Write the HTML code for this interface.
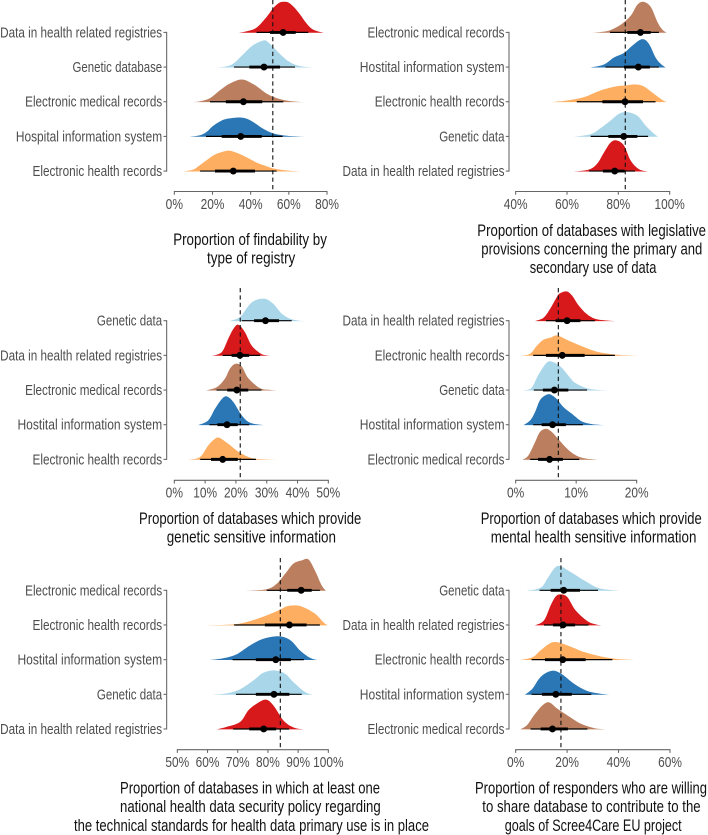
<!DOCTYPE html>
<html lang="en">
<head>
<meta charset="utf-8">
<title>Proportions by type of data source</title>
<style>
  html, body { margin: 0; padding: 0; background: #fff; }
  svg { display: block; font-family: "Liberation Sans", sans-serif; }
  .title { font-size: 16.8px; fill: #111; }
  .tick-text { font-size: 14.6px; fill: #4d4d4d; }
</style>
</head>
<body>
<svg id="chart" width="708" height="835" viewBox="0 0 708 835" xmlns="http://www.w3.org/2000/svg">
  <g>
    <text class="title" x="173.2" y="245" textLength="153.7" lengthAdjust="spacingAndGlyphs">Proportion of findability by</text>
    <text class="title" x="207" y="263.5" textLength="88.3" lengthAdjust="spacingAndGlyphs">type of registry</text>
  </g>
  <g>
    <text class="title" x="477.3" y="236" textLength="228.7" lengthAdjust="spacingAndGlyphs">Proportion of databases with legislative</text>
    <text class="title" x="481.3" y="254.5" textLength="221" lengthAdjust="spacingAndGlyphs">provisions concerning the primary and</text>
    <text class="title" x="529.7" y="273" textLength="126.7" lengthAdjust="spacingAndGlyphs">secondary use of data</text>
  </g>
  <g>
    <text class="title" x="139" y="524" textLength="222.3" lengthAdjust="spacingAndGlyphs">Proportion of databases which provide</text>
    <text class="title" x="166.7" y="542.7" textLength="169.3" lengthAdjust="spacingAndGlyphs">genetic sensitive information</text>
  </g>
  <g>
    <text class="title" x="480.7" y="524" textLength="221" lengthAdjust="spacingAndGlyphs">Proportion of databases which provide</text>
    <text class="title" x="490.7" y="542.7" textLength="205.7" lengthAdjust="spacingAndGlyphs">mental health sensitive information</text>
  </g>
  <g>
    <text class="title" x="120" y="793.3" textLength="260" lengthAdjust="spacingAndGlyphs">Proportion of databases in which at least one</text>
    <text class="title" x="120" y="812.2" textLength="260.7" lengthAdjust="spacingAndGlyphs">national health data security policy regarding</text>
    <text class="title" x="74" y="831" textLength="355" lengthAdjust="spacingAndGlyphs">the technical standards for health data primary use is in place</text>
  </g>
  <g>
    <text class="title" x="475" y="793.3" textLength="232" lengthAdjust="spacingAndGlyphs">Proportion of responders who are willing</text>
    <text class="title" x="482.3" y="812.2" textLength="218.3" lengthAdjust="spacingAndGlyphs">to share database to contribute to the</text>
    <text class="title" x="504.7" y="831" textLength="177" lengthAdjust="spacingAndGlyphs">goals of Scree4Care EU project</text>
  </g>
</svg>
<script>
// ---- Panel 1 data ----
const p1Categories = ["Data in health related registries","Genetic database","Electronic medical records","Hospital information system","Electronic health records"];
const p1Kinds = ["registry","genetic","emr","his","ehr"];
const p1Ticks = [0,20,40,60,80];
const p1Reference = [51.6];
const p1Points = [57,47,36.2,34.8,30.9];
const p1InnerLow = [50.1,39.3,27,24.8,21.3];
const p1InnerHigh = [63.6,55.4,46.1,45.8,42.3];
const p1OuterLow = [43.1,31.3,18.7,16.6,13.5];
const p1OuterHigh = [70.2,63.2,57.1,56.8,53.6];
const p1Density = [
  [[33.9,0],[38,1.5],[43,5],[48,15],[52,25],[55,30],[57.6,31],[60,30],[63,25],[66,18],[69,10],[72,4],[75,1.5],[78.4,0]],
  [[21.8,0],[27,1],[31,4],[36,13],[41,22],[46.6,27],[49,25.5],[52,20],[57,10.5],[60,6],[63,3],[67,1],[72.8,0]],
  [[10,0],[14,1],[18.7,4],[24,12],[29,18.5],[35.3,22.7],[41.4,18],[48.4,8.5],[53,4.5],[57,2.3],[62,.8],[68,0]],
  [[8,0],[13.5,1.5],[17,5],[20.4,11],[25.7,17],[30,18.7],[34.4,19.3],[38,18],[41.4,14.7],[46.6,8],[52,3.3],[59,1],[68,0]],
  [[4.7,0],[10,2],[13.5,6.5],[20.4,16],[25,19.5],[29.2,20.7],[36,16],[43,9],[48,5.5],[52,3],[59,1],[65.9,0]]
];

// ---- Panel 2 data ----
const p2Categories = ["Electronic medical records","Hostital information system","Electronic health records","Genetic data","Data in health related registries"];
const p2Kinds = ["emr","his","ehr","genetic","registry"];
const p2Ticks = [40,60,80,100];
const p2Reference = [82.7];
const p2Points = [88.6,87.8,82.6,82.1,78.6];
const p2InnerLow = [83.5,82.2,73.8,76.1,74];
const p2InnerHigh = [92.6,92.3,89.6,87.4,82.5];
const p2OuterLow = [76.8,75,63.8,69.2,68.6];
const p2OuterHigh = [95.8,95.8,94.5,91.6,86.5];
const p2Density = [
  [[69.9,0],[74,1],[77,2.8],[80.9,8],[84.8,17],[87.4,28],[89.7,31],[92.6,26],[95.2,11],[97,3.5],[98.8,0]],
  [[69.2,0],[74.4,3],[78.3,10],[82.2,14.5],[85.5,22],[89.3,28.3],[91.9,23.7],[94.5,10],[96.5,3.7],[98.4,0]],
  [[53.6,0],[60.1,1.7],[66.6,5],[73,11.7],[79.6,16],[82.9,16.7],[86.8,17.7],[90,15.7],[93.9,8.3],[97.1,2.3],[98.8,0]],
  [[62.7,0],[69.2,2.5],[73,8.5],[77,16.3],[80.3,23],[83.5,24.7],[87.4,21],[90.6,11.3],[93.9,3],[95.5,0]],
  [[62.7,0],[68.6,2],[71.8,8],[74.4,19],[77,29],[79.4,31],[82.2,26],[84.8,11],[88,2.3],[91.3,0]]
];

// ---- Panel 3 data ----
const p3Categories = ["Genetic data","Data in health related registries","Electronic medical records","Hostital information system","Electronic health records"];
const p3Kinds = ["genetic","registry","emr","his","ehr"];
const p3Ticks = [0,10,20,30,40,50];
const p3Reference = [21.4];
const p3Points = [29.6,21.3,20.3,17.1,15.7];
const p3InnerLow = [25.9,18.6,17.2,14,11.9];
const p3InnerHigh = [34,24.3,24,20.6,20.6];
const p3OuterLow = [21.9,15.7,13.7,11.4,8.4];
const p3OuterHigh = [38.1,27.8,28.3,24.3,26.5];
const p3Density = [
  [[17.9,0],[21.3,4],[24,15],[26.2,20.7],[29.4,22.3],[32.1,17.3],[34.9,7.3],[37.6,2.3],[40.3,.5],[42.7,0]],
  [[12.3,0],[15.4,3.7],[17.5,17],[19.2,27],[20.8,31],[22.9,23.7],[25.1,10.3],[27.8,2.7],[29.5,.7],[31.6,0]],
  [[10.3,0],[13.8,3.3],[16.4,11.7],[18.1,22],[19.9,26.7],[21.9,24],[24,12.3],[27.8,2.3],[31,.6],[33.2,0]],
  [[7.8,0],[11,4.7],[13.2,16.3],[15.4,26],[17,28.7],[19.2,23],[21.9,9.7],[24.6,2.3],[28.9,0]],
  [[4.5,0],[8.3,2.7],[11,14.3],[13.2,21],[14.6,22],[17.5,16],[21.3,7],[25.1,1.7],[29,.5],[33.2,0]]
];

// ---- Panel 4 data ----
const p4Categories = ["Data in health related registries","Electronic health records","Genetic data","Hostital information system","Electronic medical records"];
const p4Kinds = ["registry","ehr","genetic","his","emr"];
const p4Ticks = [0,10,20];
const p4Reference = [7.05];
const p4Points = [8.5,7.7,6.4,6.1,5.6];
const p4InnerLow = [6.6,5,4.5,4.3,3.7];
const p4InnerHigh = [10.7,11.4,8.7,8.3,7.8];
const p4OuterLow = [5,2.9,3,2.9,2.4];
const p4OuterHigh = [13.1,16.4,11.8,11.1,10.5];
const p4Density = [
  [[3.2,0],[4.6,3.3],[5.7,12.3],[6.8,24],[7.3,27.7],[8.4,29.7],[9.3,25.7],[10.4,15.7],[11.7,7.3],[13.1,2.3],[14.8,.7],[16.4,0]],
  [[.9,0],[2.4,2],[3.5,10],[4.6,16],[5.7,18],[6.9,20.3],[8.7,15.3],[10.9,9.7],[13.1,4.7],[15.3,2],[17.5,.7],[20.8,0]],
  [[1.3,0],[2.6,2.3],[3.7,15],[5,27],[5.9,29],[7.4,24],[9.1,12],[9.8,7.7],[11.7,2.3],[13.7,.5],[15.6,0]],
  [[1.3,0],[2.4,4.7],[3.2,13],[4,24.7],[4.9,29.7],[5.7,30.7],[6.8,26],[7.9,18],[9.3,11.3],[10.9,3.7],[12.6,1],[14.5,0]],
  [[1.1,0],[2.1,4.3],[3.2,17.7],[4,27.7],[5,31],[6,27.7],[7,21],[8.4,11.7],[9.8,5],[11.2,1.7],[13.7,0]]
];

// ---- Panel 5 data ----
const p5Categories = ["Electronic medical records","Electronic health records","Hostital information system","Genetic data","Data in health related registries"];
const p5Kinds = ["emr","ehr","his","genetic","registry"];
const p5Ticks = [50,60,70,80,90,100];
const p5Reference = [84.1];
const p5Points = [91,87.1,82.6,82,78.6];
const p5InnerLow = [86.4,79,76,76,73.8];
const p5InnerHigh = [94.5,92.8,87.6,87.1,82.7];
const p5OuterLow = [79.6,68.8,68.3,69.4,68.5];
const p5OuterHigh = [97.2,97.2,91.9,91.2,87];
const p5Density = [
  [[72.7,0],[79.6,1.5],[82.9,7],[85.7,17],[88.4,27],[91.2,30.3],[93.4,31.3],[95.6,20],[97.8,5.3],[99.2,0]],
  [[58.9,0],[68.5,1],[74.1,4.3],[79.6,10],[84,15.7],[86.2,19],[89,20],[91.7,18.3],[95.6,11.7],[98.3,3.3],[99.8,0]],
  [[60.8,0],[65.2,1.8],[69.6,5.7],[74.1,14.7],[78.5,21.3],[83.8,23.7],[87.5,19.7],[90.6,9.7],[93.9,2.3],[96.4,0]],
  [[61.7,0],[66.3,1.3],[70.8,5.5],[75.2,14.3],[78.5,22],[82.3,24.3],[85.7,21],[88.4,12.7],[92.3,2.7],[94.8,0]],
  [[63,0],[66.3,2.5],[70.8,7.5],[73.5,19],[76.3,25.7],[79.3,29.7],[81.8,24],[85.1,9],[88.4,2],[91.7,0]]
];

// ---- Panel 6 data ----
const p6Categories = ["Genetic data","Data in health related registries","Electronic health records","Hostital information system","Electronic medical records"];
const p6Kinds = ["genetic","registry","ehr","his","emr"];
const p6Ticks = [0,20,40,60];
const p6Reference = [17.6];
const p6Points = [18.7,18.4,18.3,15.6,14.3];
const p6InnerLow = [13.6,14.5,11.4,10.2,9.7];
const p6InnerHigh = [25,23.1,27.2,21.8,20.3];
const p6OuterLow = [9.3,11,6.2,6.2,5.8];
const p6OuterHigh = [32,28.3,37.6,29.4,27.9];
const p6Density = [
  [[4.3,0],[9.7,3],[12.3,12],[14.9,22],[17.1,24.7],[21.4,18.7],[26.6,10.3],[31.8,3],[37,.7],[40.4,0]],
  [[7.5,0],[11,5],[13.6,20],[15.6,29],[17.5,31],[20.1,28.3],[23.3,15],[27.9,4.3],[31.1,1],[33.4,0]],
  [[1.7,0],[6.5,2.8],[9.7,9.7],[13,16.3],[15.6,18],[20.1,14.7],[26.6,8],[33,3.7],[39.5,1],[46,0]],
  [[3.6,0],[6.5,6],[9.1,16],[11.7,21.7],[14.9,24],[18.1,20.3],[22.7,11],[27.9,3.7],[33,1],[36.3,0]],
  [[1.9,0],[4.5,4.5],[7.1,14],[10.4,24],[13,27],[16.2,20.7],[20.1,14],[25.3,5.7],[30.5,1.3],[35,0]]
];

// ---- Appearance ----
const fillByKind = { registry: "#d7191c", genetic: "#a9d6e9", emr: "#bb7f5f", his: "#2b76b4", ehr: "#fdae61" };
const labelWidths = {
  "Data in health related registries": 162,
  "Genetic database": 89.7,
  "Electronic medical records": 137,
  "Hospital information system": 146.3,
  "Hostital information system": 144.7,
  "Electronic health records": 129.7,
  "Genetic data": 65.3
};

const panelConfigs = [
  { id: 1, categories: p1Categories, kinds: p1Kinds, ticks: p1Ticks, reference: p1Reference, points: p1Points, innerLow: p1InnerLow, innerHigh: p1InnerHigh, outerLow: p1OuterLow, outerHigh: p1OuterHigh, density: p1Density, left: 174.33, right: 327, axisY: 191.5, rowTop: 32.4, spineX: 166.67, lineTop: 0 },
  { id: 2, categories: p2Categories, kinds: p2Kinds, ticks: p2Ticks, reference: p2Reference, points: p2Points, innerLow: p2InnerLow, innerHigh: p2InnerHigh, outerLow: p2OuterLow, outerHigh: p2OuterHigh, density: p2Density, left: 515.67, right: 669.67, axisY: 191.5, rowTop: 32.4, spineX: 509, lineTop: 0 },
  { id: 3, categories: p3Categories, kinds: p3Kinds, ticks: p3Ticks, reference: p3Reference, points: p3Points, innerLow: p3InnerLow, innerHigh: p3InnerHigh, outerLow: p3OuterLow, outerHigh: p3OuterHigh, density: p3Density, left: 174.33, right: 328.33, axisY: 480.3, rowTop: 320.7, spineX: 166.67, lineTop: 288 },
  { id: 4, categories: p4Categories, kinds: p4Kinds, ticks: p4Ticks, reference: p4Reference, points: p4Points, innerLow: p4InnerLow, innerHigh: p4InnerHigh, outerLow: p4OuterLow, outerHigh: p4OuterHigh, density: p4Density, left: 515.67, right: 636.67, axisY: 480.3, rowTop: 320.7, spineX: 509, lineTop: 288 },
  { id: 5, categories: p5Categories, kinds: p5Kinds, ticks: p5Ticks, reference: p5Reference, points: p5Points, innerLow: p5InnerLow, innerHigh: p5InnerHigh, outerLow: p5OuterLow, outerHigh: p5OuterHigh, density: p5Density, left: 177.33, right: 328.33, axisY: 749.7, rowTop: 590.3, spineX: 166.67, lineTop: 558 },
  { id: 6, categories: p6Categories, kinds: p6Kinds, ticks: p6Ticks, reference: p6Reference, points: p6Points, innerLow: p6InnerLow, innerHigh: p6InnerHigh, outerLow: p6OuterLow, outerHigh: p6OuterHigh, density: p6Density, left: 515.67, right: 670, axisY: 749.7, rowTop: 590.3, spineX: 509, lineTop: 558 }
];

const SVG_NS = "http://www.w3.org/2000/svg";
const ROW_STEP = 34.67;
const root = document.getElementById("chart");

function make(tag, attrs, parent) {
  const el = document.createElementNS(SVG_NS, tag);
  Object.keys(attrs).forEach(function (k) { el.setAttribute(k, attrs[k]); });
  parent.appendChild(el);
  return el;
}

function linearScale(d0, d1, r0, r1) {
  return function (v) { return r0 + (v - d0) * (r1 - r0) / (d1 - d0); };
}

function densityPath(samples, xScale, baseY) {
  const pts = samples.map(function (s) { return [xScale(s[0]), baseY - s[1]]; });
  let d = "M" + pts[0][0].toFixed(2) + "," + baseY.toFixed(2);
  for (let i = 0; i < pts.length - 1; i++) {
    const p0 = pts[Math.max(i - 1, 0)];
    const p1 = pts[i];
    const p2 = pts[i + 1];
    const p3 = pts[Math.min(i + 2, pts.length - 1)];
    const c1x = p1[0] + (p2[0] - p0[0]) / 6;
    const c1y = Math.min(baseY, p1[1] + (p2[1] - p0[1]) / 6);
    const c2x = p2[0] - (p3[0] - p1[0]) / 6;
    const c2y = Math.min(baseY, p2[1] - (p3[1] - p1[1]) / 6);
    d += "C" + c1x.toFixed(2) + "," + c1y.toFixed(2) + " " + c2x.toFixed(2) + "," + c2y.toFixed(2) + " " + p2[0].toFixed(2) + "," + p2[1].toFixed(2);
  }
  return d + "L" + pts[pts.length - 1][0].toFixed(2) + "," + baseY.toFixed(2) + "Z";
}

function drawPanel(cfg) {
  const domainLow = cfg.ticks[0];
  const domainHigh = cfg.ticks[cfg.ticks.length - 1];
  const x = linearScale(domainLow, domainHigh, cfg.left, cfg.right);
  const y = function (i) { return cfg.rowTop + i * ROW_STEP; };
  const lastRow = y(cfg.categories.length - 1);

  const panel = make("g", {}, root);
  
  

  // Y axis
  const yAxis = make("g", {}, panel);
  
  
  const spine = make("line", { x1: cfg.spineX, x2: cfg.spineX, y1: y(0) - 0.5, y2: lastRow + 0.5, stroke: "#666", "stroke-width": 1.07 }, yAxis);
  
  

  cfg.categories.forEach(function (label, i) {
    const tick = make("line", { x1: cfg.spineX - 3.2, x2: cfg.spineX, y1: y(i), y2: y(i), stroke: "#666", "stroke-width": 1.07 }, yAxis);
    
    
    const w = labelWidths[label] || label.length * 5;
    const text = make("text", { class: "tick-text", x: cfg.spineX - 4.5 - w, y: y(i) + 5, textLength: w, lengthAdjust: "spacingAndGlyphs" }, yAxis);
    
    
    text.textContent = label;
  });

  // X axis
  const xAxis = make("g", {}, panel);
  
  
  const xLine = make("line", { x1: x(domainLow) - 0.5, x2: x(domainHigh) + 0.5, y1: cfg.axisY, y2: cfg.axisY, stroke: "#666", "stroke-width": 1.07 }, xAxis);
  
  
  cfg.ticks.forEach(function (t) {
    const tick = make("line", { x1: x(t), x2: x(t), y1: cfg.axisY, y2: cfg.axisY + 3.2, stroke: "#666", "stroke-width": 1.07 }, xAxis);
    
    
    const str = t + "%";
    const w = 10.8 + 6.5 * String(t).length;
    const text = make("text", { class: "tick-text", x: x(t) - w / 2, y: cfg.axisY + 17.3, textLength: w, lengthAdjust: "spacingAndGlyphs" }, xAxis);
    
    
    text.textContent = str;
  });

  // Densities
  cfg.density.forEach(function (samples, i) {
    const area = make("path", { d: densityPath(samples, x, y(i) + 0.4), fill: fillByKind[cfg.kinds[i]] }, panel);
    
    
  });

  // Reference line
  cfg.reference.forEach(function (r) {
    const ref = make("line", { x1: x(r), x2: x(r), y1: cfg.lineTop, y2: cfg.axisY, stroke: "#111", "stroke-width": 1.1, "stroke-dasharray": "4.2 3.2" }, panel);
    
    
  });

  // Intervals and points
  cfg.points.forEach(function (p, i) {
    const outer = make("line", { x1: x(cfg.outerLow[i]), x2: x(cfg.outerHigh[i]), y1: y(i), y2: y(i), stroke: "#000", "stroke-width": 1.2 }, panel);
    
    
    const inner = make("line", { x1: x(cfg.innerLow[i]), x2: x(cfg.innerHigh[i]), y1: y(i), y2: y(i), stroke: "#000", "stroke-width": 2.9 }, panel);
    
    
    const dot = make("circle", { cx: x(p), cy: y(i), r: 3.45, fill: "#000" }, panel);
    
    
  });
}

panelConfigs.forEach(drawPanel);
</script>
</body>
</html>
